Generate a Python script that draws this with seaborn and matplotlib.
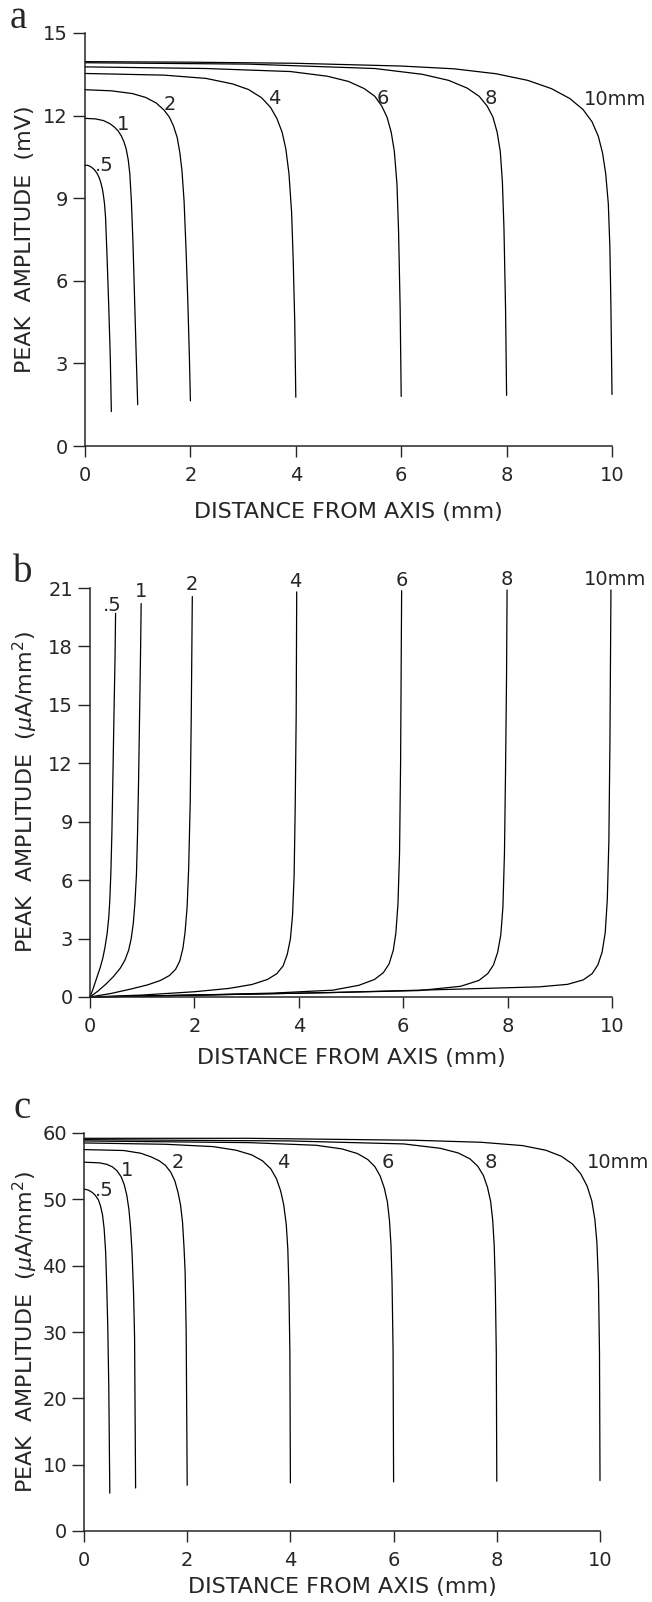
import matplotlib
matplotlib.use("Agg")
import matplotlib.pyplot as plt
import pandas as pd
import seaborn as sns

# ---------------- data ----------------
radii_labels = [".5", "1", "2", "4", "6", "8", "10mm"]

# Panel a : peak amplitude (mV)
a_05_x = [0, 0.06, 0.12, 0.18, 0.23, 0.27, 0.3, 0.33, 0.35, 0.37, 0.39, 0.42, 0.45, 0.48, 0.5]
a_05_y = [10.2, 10.19, 10.13, 10.03, 9.9, 9.74, 9.57, 9.33, 9.1, 8.8, 8.3, 6.8, 5.1, 3.2, 1.25]
a_1_x = [0, 0.2, 0.35, 0.47, 0.56, 0.63, 0.69, 0.74, 0.78, 0.82, 0.85, 0.88, 0.91, 0.94, 0.97, 1.0]
a_1_y = [11.9, 11.88, 11.82, 11.71, 11.58, 11.44, 11.26, 11.04, 10.8, 10.4, 9.9, 8.9, 7.4, 5.4, 3.4, 1.5]
a_2_x = [0, 0.5, 0.9, 1.15, 1.35, 1.5, 1.6, 1.68, 1.75, 1.8, 1.84, 1.88, 1.92, 1.95, 1.98, 2.0]
a_2_y = [12.94, 12.9, 12.8, 12.66, 12.46, 12.2, 11.95, 11.62, 11.2, 10.65, 10.0, 8.9, 7.0, 5.3, 3.3, 1.64]
a_4_x = [0, 1.5, 2.3, 2.8, 3.1, 3.35, 3.52, 3.64, 3.74, 3.81, 3.87, 3.92, 3.95, 3.98, 4.0]
a_4_y = [13.53, 13.47, 13.35, 13.15, 12.95, 12.65, 12.3, 11.9, 11.4, 10.8, 9.9, 8.5, 6.8, 4.5, 1.77]
a_6_x = [0, 2.3, 3.9, 4.6, 5.0, 5.3, 5.5, 5.63, 5.73, 5.81, 5.87, 5.92, 5.95, 5.98, 6.0]
a_6_y = [13.77, 13.71, 13.6, 13.43, 13.24, 12.98, 12.7, 12.35, 11.95, 11.4, 10.7, 9.5, 7.8, 5.0, 1.8]
a_8_x = [0, 3.1, 5.5, 6.4, 6.9, 7.25, 7.48, 7.63, 7.74, 7.82, 7.88, 7.92, 7.95, 7.98, 8.0]
a_8_y = [13.92, 13.87, 13.71, 13.5, 13.28, 13.0, 12.7, 12.35, 11.95, 11.4, 10.7, 9.6, 7.9, 5.0, 1.84]
a_10_x = [0, 2, 4, 6, 7, 7.8, 8.4, 8.85, 9.2, 9.45, 9.62, 9.74, 9.82, 9.88, 9.93, 9.96, 9.98, 10]
a_10_y = [13.96, 13.94, 13.9, 13.8, 13.7, 13.52, 13.28, 12.98, 12.62, 12.22, 11.78, 11.25, 10.65, 9.9, 8.8, 7.2, 5.0, 1.87]
a_lab_x = [0.36, 0.73, 1.60, 3.59, 5.66, 7.70, 9.47]
a_lab_y = [10.2, 11.66, 12.4, 12.63, 12.63, 12.63, 12.57]

# Panel b : peak current density (uA/mm^2)
b_05_x = [0, 0.05, 0.1, 0.15, 0.2, 0.25, 0.29, 0.33, 0.36, 0.38, 0.4, 0.42, 0.44, 0.46, 0.48, 0.49]
b_05_y = [0, 0.35, 0.75, 1.15, 1.55, 2.05, 2.6, 3.3, 4.1, 5.0, 6.4, 8.5, 11.5, 14.6, 17.5, 19.7]
b_1_x = [0, 0.15, 0.3, 0.45, 0.58, 0.67, 0.74, 0.79, 0.83, 0.86, 0.89, 0.91, 0.93, 0.95, 0.97, 0.98]
b_1_y = [0, 0.3, 0.65, 1.05, 1.48, 1.9, 2.4, 3.0, 3.8, 4.8, 6.3, 8.3, 11.0, 14.5, 18.0, 20.2]
b_2_x = [0, 0.4, 0.8, 1.1, 1.35, 1.52, 1.64, 1.72, 1.78, 1.82, 1.86, 1.89, 1.92, 1.94, 1.96]
b_2_y = [0, 0.18, 0.42, 0.62, 0.85, 1.1, 1.42, 1.85, 2.5, 3.3, 4.6, 6.6, 10.0, 14.5, 20.56]
b_4_x = [0, 1.0, 2.0, 2.66, 3.1, 3.4, 3.58, 3.7, 3.78, 3.84, 3.88, 3.91, 3.93, 3.95, 3.96]
b_4_y = [0, 0.1, 0.27, 0.44, 0.64, 0.9, 1.2, 1.6, 2.2, 3.0, 4.2, 6.2, 9.5, 14.5, 20.8]
b_6_x = [0, 2.0, 3.5, 4.65, 5.15, 5.45, 5.62, 5.73, 5.81, 5.86, 5.9, 5.93, 5.95, 5.97]
b_6_y = [0, 0.1, 0.2, 0.35, 0.6, 0.9, 1.25, 1.7, 2.4, 3.3, 4.8, 7.4, 12.0, 20.86]
b_8_x = [0, 2.5, 4.65, 6.3, 7.1, 7.45, 7.62, 7.73, 7.81, 7.87, 7.91, 7.94, 7.96, 7.98, 7.99]
b_8_y = [0, 0.12, 0.23, 0.33, 0.55, 0.85, 1.2, 1.65, 2.3, 3.2, 4.6, 7.4, 11.5, 16.5, 20.9]
b_10_x = [0, 2.5, 4.65, 7.0, 8.6, 9.15, 9.45, 9.62, 9.73, 9.81, 9.87, 9.91, 9.94, 9.96, 9.98]
b_10_y = [0, 0.12, 0.23, 0.4, 0.52, 0.65, 0.88, 1.2, 1.65, 2.3, 3.3, 5.0, 8.0, 13.0, 20.9]
b_lab_x = [0.42, 0.98, 1.96, 3.93, 5.97, 7.99, 10.06]
b_lab_y = [20.1, 20.8, 21.2, 21.35, 21.4, 21.45, 21.45]

# Panel c : peak current density (uA/mm^2)
c_05_x = [0, 0.08, 0.16, 0.22, 0.28, 0.32, 0.36, 0.39, 0.42, 0.44, 0.46, 0.48, 0.5]
c_05_y = [51.55, 51.4, 51.04, 50.6, 49.9, 49.0, 47.6, 45.6, 42.0, 37.0, 31.0, 22.0, 5.7]
c_1_x = [0, 0.3, 0.44, 0.55, 0.64, 0.72, 0.78, 0.83, 0.87, 0.9, 0.93, 0.96, 0.98, 1.0]
c_1_y = [55.6, 55.5, 55.28, 54.9, 54.3, 53.4, 52.2, 50.6, 48.5, 46.0, 42.2, 36.0, 29.3, 6.48]
c_2_x = [0, 0.77, 1.1, 1.3, 1.46, 1.58, 1.68, 1.76, 1.82, 1.87, 1.91, 1.94, 1.96, 1.98, 2.0]
c_2_y = [57.5, 57.36, 56.95, 56.4, 55.8, 55.1, 54.1, 52.8, 51.1, 49.2, 46.5, 42.5, 39.0, 30.0, 6.9]
c_4_x = [0, 1.58, 2.5, 2.95, 3.25, 3.46, 3.62, 3.73, 3.81, 3.87, 3.92, 3.95, 3.97, 3.99, 4.0]
c_4_y = [58.5, 58.3, 57.95, 57.4, 56.7, 55.8, 54.6, 53.1, 51.3, 49.2, 46.2, 42.5, 37.0, 27.0, 7.25]
c_6_x = [0, 3.19, 4.5, 5.0, 5.3, 5.5, 5.64, 5.74, 5.82, 5.88, 5.92, 5.95, 5.97, 5.99, 6.0]
c_6_y = [58.8, 58.55, 58.15, 57.6, 56.9, 56.0, 54.9, 53.5, 51.7, 49.6, 46.8, 43.0, 37.5, 27.0, 7.4]
c_8_x = [0, 4.0, 6.2, 6.9, 7.25, 7.48, 7.63, 7.74, 7.82, 7.88, 7.92, 7.95, 7.97, 7.99, 8.0]
c_8_y = [59.0, 58.8, 58.35, 57.7, 57.0, 56.1, 55.0, 53.6, 51.8, 49.7, 46.9, 43.0, 37.5, 27.0, 7.5]
c_10_x = [0, 3.19, 6.43, 7.7, 8.5, 8.95, 9.25, 9.47, 9.63, 9.75, 9.84, 9.9, 9.94, 9.97, 9.99, 10]
c_10_y = [59.2, 59.2, 58.9, 58.6, 58.1, 57.4, 56.5, 55.3, 53.8, 52.0, 49.8, 47.0, 43.5, 37.5, 27.0, 7.6]
c_lab_x = [0.40, 0.83, 1.82, 3.86, 5.88, 7.88, 9.74]
c_lab_y = [51.4, 54.4, 55.6, 55.6, 55.6, 55.6, 55.6]

x_ticks = [0, 2, 4, 6, 8, 10]
a_yticks = [0, 3, 6, 9, 12, 15]
b_yticks = [0, 3, 6, 9, 12, 15, 18, 21]
c_yticks = [0, 10, 20, 30, 40, 50, 60]

xlabel = "DISTANCE FROM AXIS (mm)"
a_ylabel = "PEAK  AMPLITUDE  (mV)"
b_ylabel = r"PEAK  AMPLITUDE  ($\mu$A/mm$^2$)"
c_ylabel = r"PEAK  AMPLITUDE  ($\mu$A/mm$^2$)"


def frame(xs, ys):
    rows = []
    for lab, x, y in zip(radii_labels, xs, ys):
        for xi, yi in zip(x, y):
            rows.append({"curve": lab, "x": xi, "y": yi})
    return pd.DataFrame(rows)


df_a = frame([a_05_x, a_1_x, a_2_x, a_4_x, a_6_x, a_8_x, a_10_x],
             [a_05_y, a_1_y, a_2_y, a_4_y, a_6_y, a_8_y, a_10_y])
df_b = frame([b_05_x, b_1_x, b_2_x, b_4_x, b_6_x, b_8_x, b_10_x],
             [b_05_y, b_1_y, b_2_y, b_4_y, b_6_y, b_8_y, b_10_y])
df_c = frame([c_05_x, c_1_x, c_2_x, c_4_x, c_6_x, c_8_x, c_10_x],
             [c_05_y, c_1_y, c_2_y, c_4_y, c_6_y, c_8_y, c_10_y])

# ---------------- figure ----------------
sns.set_style("ticks")
plt.rcParams['font.family'] = ['DejaVu Sans']
plt.rcParams['mathtext.fontset'] = 'dejavusans'

W, H = 652, 1602
fig = plt.figure(figsize=(W / 100, H / 100), dpi=100)


def add_axes(left, right, top, bottom):
    return fig.add_axes([left / W, 1 - bottom / H, (right - left) / W, (bottom - top) / H])


panels = [
    (add_axes(85, 612, 33, 446), df_a, a_yticks, (0, 15), a_ylabel, a_lab_x, a_lab_y,
     "a", (18, 18), -0.114, -0.160, ["center"] * 6 + ["left"]),
    (add_axes(90, 612, 588, 997), df_b, b_yticks, (0, 21), b_ylabel, b_lab_x, b_lab_y,
     "b", (23, 573), -0.1245, -0.149, ["center"] * 7),
    (add_axes(84, 600, 1133, 1531), df_c, c_yticks, (0, 60), c_ylabel, c_lab_x, c_lab_y,
     "c", (22, 1108), -0.1143, -0.141, ["center"] * 6 + ["left"]),
]

for ax, df, yt, ylim, ylab, lx, ly, letter, lpos, ylc, xlc, has in panels:
    sns.lineplot(data=df, x="x", y="y", units="curve", estimator=None, sort=False,
                 color="black", linewidth=0.9, ax=ax)
    for ln in ax.lines:
        ln.set_clip_on(False)
        ln.set_solid_joinstyle("round")
    ax.set_xlim(0, 10)
    ax.set_ylim(*ylim)
    ax.set_xticks(x_ticks)
    ax.set_yticks(yt)
    sns.despine(ax=ax)
    for s in ("left", "bottom"):
        ax.spines[s].set_linewidth(1.1)
    ax.tick_params(axis="y", direction="out", length=8.6, width=1.0, pad=3.6, labelsize=14)
    ax.tick_params(axis="x", direction="out", length=8.0, width=1.0, pad=6.5, labelsize=14)
    ax.set_xlabel(xlabel, fontsize=16)
    ax.set_ylabel(ylab, fontsize=16)
    ax.xaxis.set_label_coords(0.5, xlc)
    ax.xaxis.label.set_va("center")
    ax.yaxis.set_label_coords(ylc, 0.5)
    ax.yaxis.label.set_va("center")
    for t, x, y, ha in zip(radii_labels, lx, ly, has):
        ax.text(x, y, t, fontsize=14, ha=ha, va="center", clip_on=False)
    fig.text(lpos[0] / W, 1 - lpos[1] / H, letter, fontsize=28,
             family=["Liberation Serif", "DejaVu Serif"], ha="center", va="center")

fig.savefig("out.png", dpi=100)
